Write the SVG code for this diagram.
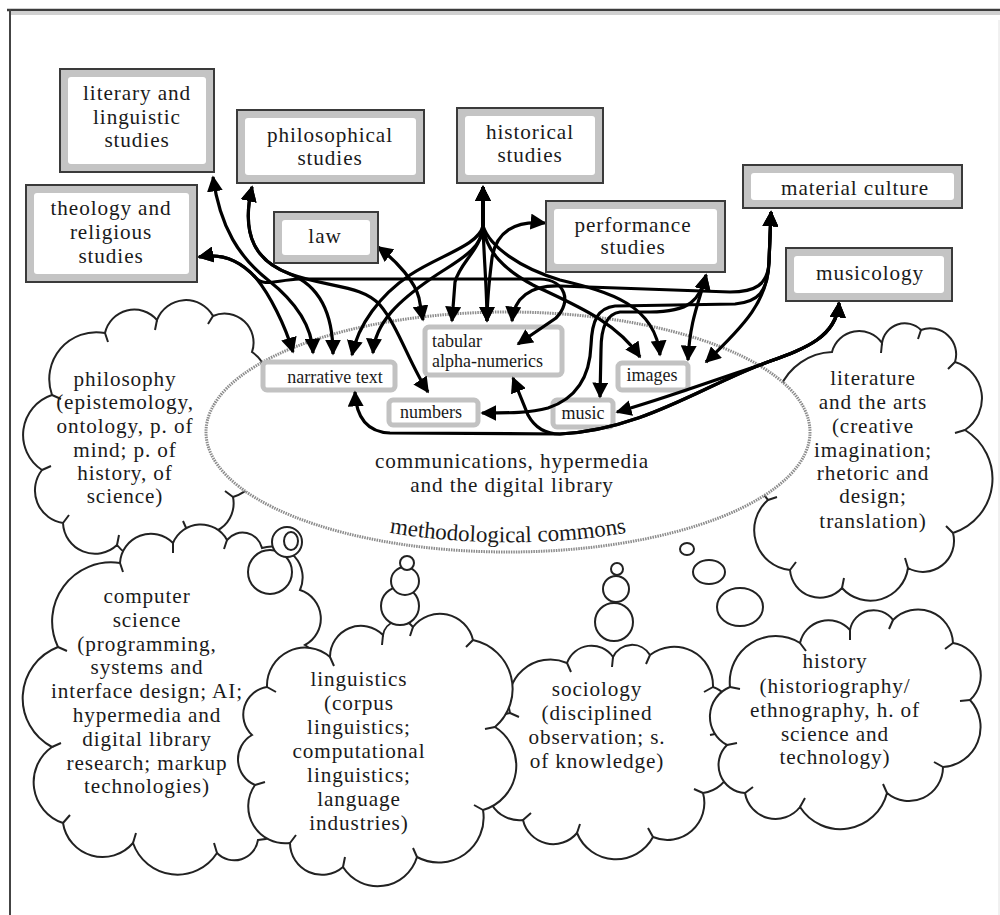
<svg xmlns="http://www.w3.org/2000/svg" width="1000" height="915" viewBox="0 0 1000 915">
<defs>
<marker id="ah" viewBox="0 0 10 10" refX="9" refY="5" markerWidth="5" markerHeight="5" orient="auto-start-reverse"><path d="M0,0 L10,5 L0,10 Z" fill="#000"/></marker>
<path id="mcArc" d="M300,509 A290,110 0 0 0 716,509" fill="none"/>
</defs>
<style>
.t{font-family:"Liberation Serif","Times New Roman",serif;fill:#1a1a1a}
.bt{font-size:21.2px;letter-spacing:0.9px;text-anchor:middle}
.ct{font-size:21.2px;letter-spacing:0.9px;text-anchor:middle}
.dt{font-size:18px}
.cloud{fill:#fff;stroke:#222;stroke-width:2}
.tick{fill:none;stroke:#222;stroke-width:2}
.bub{fill:#fff;stroke:#222;stroke-width:2}
.outer{fill:#c4c4c4;stroke:#3a3a3a;stroke-width:2}
.inner{fill:#fff}
.data{fill:#fff;stroke:#c2c2c2;stroke-width:5}
.c{fill:none;stroke:#000;stroke-width:3.2;marker-start:url(#ah);marker-end:url(#ah)}
</style>
<rect x="0" y="0" width="1000" height="915" fill="#fff"/>
<g id="frame">
<line x1="10" y1="13.5" x2="1000" y2="13.5" stroke="#d0d0d0" stroke-width="3"/>
<line x1="7" y1="10" x2="1000" y2="10" stroke="#3c3c3c" stroke-width="2.5"/>
<line x1="10" y1="9" x2="10" y2="915" stroke="#444" stroke-width="2"/>
<line x1="999" y1="20" x2="999" y2="915" stroke="#e2e2e2" stroke-width="1"/>
</g>

<g id="cloud-philosophy">
<path class="cloud" d="M52,395 A47,47 0 0 1 105,333 A30,30 0 0 1 157,320 A31,31 0 0 1 213,316 A29,29 0 0 1 252,352 A38,38 0 0 1 240,420 A42,42 0 0 1 233,497 A31,31 0 0 1 187,530 A40,40 0 0 1 117,545 A32,32 0 0 1 63,523 A33,33 0 0 1 42,470 A42,42 0 0 1 52,395 Z"/>
<path class="tick" d="M52,395 l9,4 M105,333 l3,9 M157,320 l-2,10 M213,316 l-5,8 M233,497 l-8,-6 M187,530 l-4,-9 M117,545 l2,-10 M63,523 l6,-8 M42,470 l9,-4"/>
<text class="t ct"><tspan x="125" y="386">philosophy</tspan><tspan x="125" y="409">(epistemology,</tspan><tspan x="125" y="433">ontology, p. of</tspan><tspan x="125" y="457">mind; p. of</tspan><tspan x="125" y="480">history, of</tspan><tspan x="125" y="503">science)</tspan></text>
</g>

<g id="cloud-literature">
<path class="cloud" d="M832,352 A28,28 0 0 1 882,343 A23,23 0 0 1 921,330 A26,26 0 0 1 955,362 A38,38 0 0 1 965,430 A57,57 0 0 1 953,533 A31,31 0 0 1 908,568 A38,38 0 0 1 842,588 A30,30 0 0 1 790,570 A40,40 0 0 1 768,500 A30,30 0 0 1 790,450 A59,59 0 0 1 832,352 Z"/>
<path class="tick" d="M882,343 l-1,10 M921,330 l-3,9 M955,362 l-7,7 M965,430 l-10,3 M953,533 l-7,-7 M908,568 l-3,-10 M842,588 l2,-10 M790,570 l6,-8 M768,500 l9,-3"/>
</g>

<g id="commons">
<ellipse cx="508" cy="432" rx="302" ry="120" fill="#fff" stroke="#8c8c8c" stroke-width="3" stroke-dasharray="1.5 1"/>
<text class="t ct"><tspan x="512" y="468">communications, hypermedia</tspan><tspan x="512" y="492">and the digital library</tspan></text>
<text class="t" style="font-size:23px"><textPath href="#mcArc" startOffset="50%" text-anchor="middle">methodological commons</textPath></text>
</g>

<g id="lit-text"><text class="t ct"><tspan x="873" y="385">literature</tspan><tspan x="873" y="409">and the arts</tspan><tspan x="873" y="433">(creative</tspan><tspan x="873" y="457">imagination;</tspan><tspan x="873" y="480">rhetoric and</tspan><tspan x="873" y="503">design;</tspan><tspan x="873" y="528">translation)</tspan></text></g>

<g id="cloud-computer-science">
<path class="cloud" d="M58,647 A59,59 0 0 1 120,563 A31,31 0 0 1 173,543 A30,30 0 0 1 227,540 A20,20 0 0 1 262,548 A31,31 0 0 1 300,590 A30,30 0 0 1 305,645 A58,58 0 0 1 290,750 A52,52 0 0 1 258,840 A24,24 0 0 1 217,853 A47,47 0 0 1 133,843 A40,40 0 0 1 63,823 A43,43 0 0 1 52,747 A55,55 0 0 1 58,647 Z"/>
<path class="tick" d="M58,647 l9,4 M120,563 l3,9 M173,543 l0,10 M227,540 l-3,9 M217,853 l-3,-10 M133,843 l3,-10 M63,823 l7,-8 M52,747 l9,-4"/>
<circle class="bub" cx="270" cy="572" r="22"/>
<circle class="bub" cx="287" cy="542" r="15"/>
<ellipse class="bub" cx="291" cy="541" rx="7" ry="9"/>
<text class="t ct"><tspan x="147" y="603">computer</tspan><tspan x="147" y="627">science</tspan><tspan x="147" y="651">(programming,</tspan><tspan x="147" y="674">systems and</tspan><tspan x="147" y="698">interface design; AI;</tspan><tspan x="147" y="722">hypermedia and</tspan><tspan x="147" y="746">digital library</tspan><tspan x="147" y="770">research; markup</tspan><tspan x="147" y="793">technologies)</tspan></text>
</g>

<g id="cloud-sociology">
<path class="cloud" d="M510,713 A42,42 0 0 1 567,663 A26,26 0 0 1 613,657 A21,21 0 0 1 650,655 A39,39 0 0 1 713,687 A26,26 0 0 1 720,733 A34,34 0 0 1 703,793 A37,37 0 0 1 653,837 A42,42 0 0 1 577,833 A31,31 0 0 1 523,820 A32,32 0 0 1 493,770 A33,33 0 0 1 510,713 Z"/>
<path class="tick" d="M510,713 l9,4 M567,663 l4,9 M613,657 l-1,10 M650,655 l-4,9 M713,687 l-9,5 M720,733 l-10,2 M703,793 l-9,-4 M653,837 l-5,-9 M577,833 l3,-9 M523,820 l8,-7 M493,770 l10,-2"/>
<circle class="bub" cx="614" cy="622" r="19"/>
<circle class="bub" cx="616" cy="589" r="13"/>
<circle class="bub" cx="617" cy="569" r="6"/>
<text class="t ct"><tspan x="597" y="696">sociology</tspan><tspan x="597" y="720">(disciplined</tspan><tspan x="597" y="744">observation; s.</tspan><tspan x="597" y="768">of knowledge)</tspan></text>
</g>

<g id="cloud-history">
<path class="cloud" d="M730,687 A46,46 0 0 1 800,643 A29,29 0 0 1 850,630 A24,24 0 0 1 893,620 A35,35 0 0 1 953,643 A33,33 0 0 1 970,700 A40,40 0 0 1 943,767 A34,34 0 0 1 887,793 A48,48 0 0 1 800,807 A31,31 0 0 1 745,793 A28,28 0 0 1 727,745 A32,32 0 0 1 730,687 Z"/>
<path class="tick" d="M730,687 l10,2 M800,643 l6,8 M850,630 l0,10 M893,620 l-4,9 M953,643 l-8,6 M970,700 l-10,1 M943,767 l-9,-5 M887,793 l-4,-9 M800,807 l5,-9 M745,793 l8,-6 M727,745 l10,-2"/>
<ellipse class="bub" cx="740" cy="607" rx="23" ry="19"/>
<ellipse class="bub" cx="709" cy="572" rx="16" ry="12"/>
<ellipse class="bub" cx="687" cy="549" rx="7" ry="6"/>
<text class="t ct"><tspan x="835" y="668">history</tspan><tspan x="835" y="693">(historiography/</tspan><tspan x="835" y="717">ethnography, h. of</tspan><tspan x="835" y="741">science and</tspan><tspan x="835" y="764">technology)</tspan></text>
</g>

<g id="cloud-linguistics">
<path class="cloud" d="M267,687 A38,38 0 0 1 330,657 A31,31 0 0 1 383,635 A17,17 0 0 1 413,627 A34,34 0 0 1 473,640 A50,50 0 0 1 495,727 A46,46 0 0 1 483,810 A45,45 0 0 1 417,857 A41,41 0 0 1 343,867 A32,32 0 0 1 290,843 A37,37 0 0 1 255,785 A28,28 0 0 1 252,735 A28,28 0 0 1 267,687 Z"/>
<path class="tick" d="M267,687 l9,5 M330,657 l4,9 M383,635 l-1,10 M413,627 l-3,9 M473,640 l-7,7 M495,727 l-10,2 M483,810 l-9,-5 M417,857 l-4,-9 M343,867 l2,-10 M290,843 l6,-8 M255,785 l10,-3"/>
<circle class="bub" cx="400" cy="606" r="19"/>
<circle class="bub" cx="405" cy="581" r="14"/>
<circle class="bub" cx="407" cy="563" r="7"/>
<text class="t ct"><tspan x="359" y="686">linguistics</tspan><tspan x="359" y="710">(corpus</tspan><tspan x="359" y="734">linguistics;</tspan><tspan x="359" y="758">computational</tspan><tspan x="359" y="782">linguistics;</tspan><tspan x="359" y="806">language</tspan><tspan x="359" y="830">industries)</tspan></text>
</g>

<g id="data-narrative"><rect class="data" x="263" y="362" width="132" height="28" rx="4"/><text class="t dt" x="335" y="383" text-anchor="middle">narrative text</text></g>
<g id="data-tabular"><rect class="data" x="425" y="327" width="137" height="48" rx="4"/><text class="t dt"><tspan x="432" y="347">tabular</tspan><tspan x="432" y="367">alpha-numerics</tspan></text></g>
<g id="data-numbers"><rect class="data" x="389" y="400" width="89" height="25" rx="4"/><text class="t dt" x="431" y="418" text-anchor="middle">numbers</text></g>
<g id="data-images"><rect class="data" x="618" y="363" width="70" height="27" rx="4"/><text class="t dt" x="652" y="381" text-anchor="middle">images</text></g>
<g id="data-music"><rect class="data" x="553" y="400" width="60" height="27" rx="4"/><text class="t dt" x="583" y="419" text-anchor="middle">music</text></g>

<g id="connectors">
<path class="c" d="M199,257 C228,252 245,266 256,278 C270,295 285,325 293,352"/>
<path class="c" d="M199,257 C228,252 245,266 256,278 C264,287 276,280 300,279 L540,279 C566,280 572,302 556,318 L518,344"/>
<path class="c" d="M213,177 C220,228 240,258 268,280 C296,302 312,325 313,353"/>
<path class="c" d="M252,187 C240,238 258,262 290,274 C320,286 333,315 333,354"/>
<path class="c" d="M252,187 C240,238 258,262 290,274 C330,288 362,285 380,305 C398,326 410,365 428,392"/>
<path class="c" d="M483,187 L483,226 C478,246 440,255 410,275 C380,295 358,325 352,355"/>
<path class="c" d="M483,187 L483,226 C483,250 455,262 432,278 C400,300 375,322 373,353"/>
<path class="c" d="M483,187 L483,226 C481,250 460,262 455,282 L452,321"/>
<path class="c" d="M483,187 L483,226 C484,260 487,290 487,321"/>
<path class="c" d="M483,187 L483,226 C486,252 505,270 533,285 C570,303 615,320 640,357"/>
<path class="c" d="M483,187 L483,226 C490,247 520,268 560,280 C610,292 655,305 660,355"/>
<path class="c" d="M378,247 C398,262 415,282 419,298 L423,320"/>
<path class="c" d="M545,223 C515,220 496,232 492,258 C489,282 487,300 487,321"/>
<path class="c" d="M771,212 L769,262 C768,285 755,292 730,292 L560,286 C530,285 514,298 512,321"/>
<path class="c" d="M771,212 L769,262 C768,300 745,325 706,362"/>
<path class="c" d="M771,212 L769,262 C768,292 758,302 735,304 L615,306 C598,308 592,320 591,345 C590,375 578,398 548,408 C530,413 510,413 482,413"/>
<path class="c" d="M706,275 C700,300 690,318 688,360"/>
<path class="c" d="M706,275 C700,300 690,312 650,312 L620,312 C605,314 601,330 601,350 L600,397"/>
<path class="c" d="M839,303 C836,340 800,350 760,365 C700,385 660,400 617,412"/>
<path class="c" d="M839,303 C836,340 800,350 760,365 C700,388 640,430 560,434 L390,433 C365,432 356,415 355,392"/>
<path class="c" d="M839,303 C836,340 800,350 760,365 C700,388 640,430 560,434 C545,434 535,428 528,415 L513,378"/>
</g>

<g id="box-literary"><rect class="outer" x="60" y="69" width="154" height="103"/><rect class="inner" x="68" y="77" width="138" height="87" rx="3"/><text class="t bt"><tspan x="137" y="100">literary and</tspan><tspan x="137" y="124">linguistic</tspan><tspan x="137" y="147">studies</tspan></text></g>
<g id="box-philosophical"><rect class="outer" x="237" y="110" width="187" height="73"/><rect class="inner" x="245" y="118" width="171" height="57" rx="3"/><text class="t bt"><tspan x="330" y="142">philosophical</tspan><tspan x="330" y="165">studies</tspan></text></g>
<g id="box-theology"><rect class="outer" x="26" y="185" width="171" height="97"/><rect class="inner" x="34" y="193" width="155" height="81" rx="3"/><text class="t bt"><tspan x="111" y="215">theology and</tspan><tspan x="111" y="239">religious</tspan><tspan x="111" y="263">studies</tspan></text></g>
<g id="box-law"><rect class="outer" x="274" y="212" width="104" height="51"/><rect class="inner" x="282" y="220" width="88" height="35" rx="3"/><text class="t bt" x="325" y="243">law</text></g>
<g id="box-historical"><rect class="outer" x="457" y="108" width="146" height="75"/><rect class="inner" x="465" y="116" width="130" height="59" rx="3"/><text class="t bt"><tspan x="530" y="139">historical</tspan><tspan x="530" y="162">studies</tspan></text></g>
<g id="box-performance"><rect class="outer" x="546" y="201" width="179" height="71"/><rect class="inner" x="554" y="209" width="163" height="55" rx="3"/><text class="t bt"><tspan x="633" y="232">performance</tspan><tspan x="633" y="254">studies</tspan></text></g>
<g id="box-material"><rect class="outer" x="743" y="165" width="219" height="43"/><rect class="inner" x="751" y="173" width="203" height="27" rx="3"/><text class="t bt" x="855" y="195">material culture</text></g>
<g id="box-musicology"><rect class="outer" x="786" y="248" width="166" height="53"/><rect class="inner" x="794" y="256" width="150" height="37" rx="3"/><text class="t bt" x="870" y="280">musicology</text></g>
</svg>
